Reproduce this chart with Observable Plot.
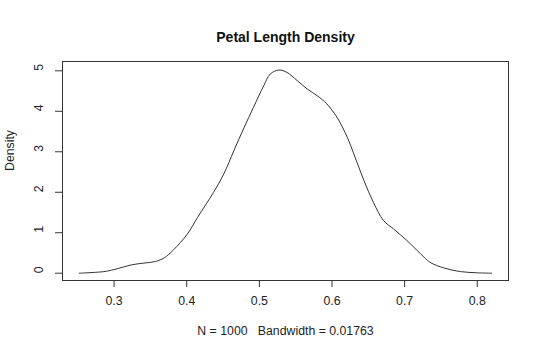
<!DOCTYPE html>
<html>
<head>
<meta charset="utf-8">
<script src="https://cdn.jsdelivr.net/npm/d3@7"></script>
<script src="https://cdn.jsdelivr.net/npm/@observablehq/plot@0.6"></script>
<style>
  html, body { margin: 0; padding: 0; background: #fff; }
</style>
</head>
<body>
<div id="chart"></div>
<script>
const title = "Petal Length Density";
const yLabel = "Density";
const xLabel = "N = 1000\u00a0\u00a0\u00a0Bandwidth = 0.01763";
const xTicks = [0.3, 0.4, 0.5, 0.6, 0.7, 0.8];
const yTicks = [0, 1, 2, 3, 4, 5];

// density curve
const petalLength = [0.252, 0.286, 0.300, 0.325, 0.341, 0.357, 0.369, 0.382, 0.401, 0.415, 0.437, 0.451, 0.465, 0.479, 0.492, 0.506, 0.515, 0.527, 0.538, 0.552, 0.566, 0.580, 0.593, 0.607, 0.621, 0.630, 0.644, 0.657, 0.671, 0.685, 0.703, 0.722, 0.735, 0.754, 0.777, 0.800, 0.820];
const density = [0.00, 0.04, 0.09, 0.21, 0.25, 0.29, 0.38, 0.58, 0.97, 1.38, 2.00, 2.45, 3.03, 3.60, 4.10, 4.63, 4.92, 5.02, 4.96, 4.76, 4.55, 4.38, 4.18, 3.85, 3.36, 2.95, 2.29, 1.75, 1.30, 1.09, 0.81, 0.48, 0.27, 0.13, 0.04, 0.01, 0.00];

const data = petalLength.map((x, i) => ({x, y: density[i]}));

const chart = Plot.plot({
  width: 540,
  height: 358,
  marginLeft: 62,
  marginRight: 32,
  marginTop: 61,
  marginBottom: 78,
  style: {fontFamily: "'Liberation Sans', Arial, sans-serif", fontSize: "12.3px", color: "#222", background: "#fff"},
  x: {domain: [0.229, 0.843], label: null},
  y: {domain: [-0.18, 5.23], label: null},
  marks: [
    Plot.frame({stroke: "#333"}),
    Plot.axisX({ticks: xTicks, tickSize: 7, tickFormat: () => "", stroke: "#333", label: null}),
    Plot.axisY({ticks: yTicks, tickSize: 7, tickFormat: () => "", stroke: "#333", label: null}),
    Plot.text(xTicks, {x: d => d, frameAnchor: "bottom", dy: 24, text: d => d.toFixed(1), fill: "#222"}),
    Plot.text(yTicks, {y: d => d, frameAnchor: "left", dx: -23, rotate: -90, text: d => String(d), fill: "#222"}),
    Plot.line(data, {x: "x", y: "y", stroke: "#333", strokeWidth: 1, curve: "catmull-rom"}),
    Plot.text([title], {frameAnchor: "top", dy: -29, text: d => d, fontWeight: "bold", fontSize: 14, fill: "#111"}),
    Plot.text([yLabel], {frameAnchor: "left", dx: -52, rotate: -90, text: d => d, fill: "#222"}),
    Plot.text([xLabel], {frameAnchor: "bottom", dy: 54, text: d => d, fill: "#222"})
  ]
});
document.getElementById("chart").appendChild(chart);
</script>
</body>
</html>
